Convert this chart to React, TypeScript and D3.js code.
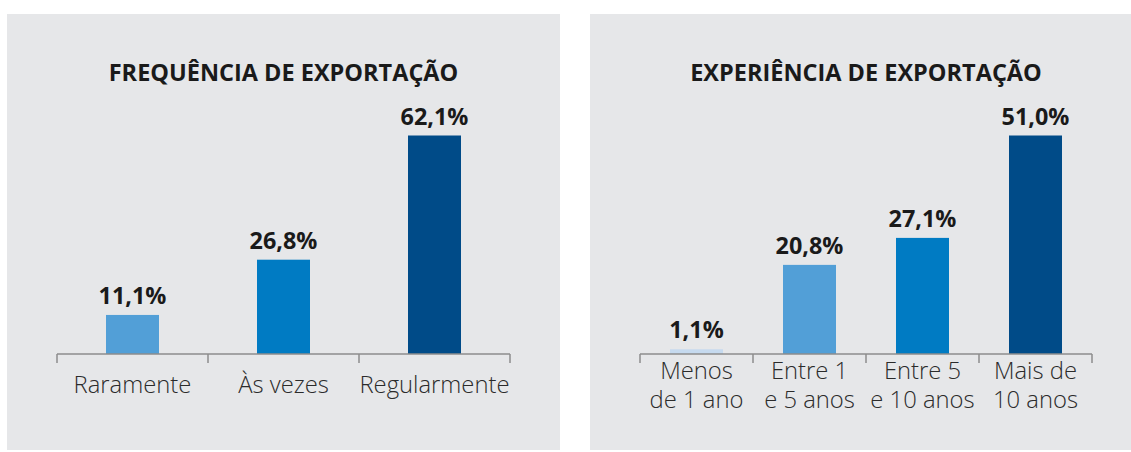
import React, { useEffect, useRef } from 'react';
import * as d3 from 'd3';

// ---- Data
const freqTitle = 'FREQUÊNCIA DE EXPORTAÇÃO';
const freqCategories = ['Raramente', 'Às vezes', 'Regularmente'];
const freqValues = [11.1, 26.8, 62.1];
const freqColors = ['#529fd7', '#007bc3', '#004b88'];

const expTitle = 'EXPERIÊNCIA DE EXPORTAÇÃO';
const expCategories = [['Menos', 'de 1 ano'], ['Entre 1', 'e 5 anos'], ['Entre 5', 'e 10 anos'], ['Mais de', '10 anos']];
const expValues = [1.1, 20.8, 27.1, 51.0];
const expColors = ['#c6daef', '#529fd7', '#007bc3', '#004b88'];

const fmt = (v: number) => v.toFixed(1).replace('.', ',') + '%';

type Panel = {
    title: string;
    labels: string[][];
    values: number[];
    colors: string[];
    box: [number, number, number, number]; // x0, y0, x1, y1
    axis: [number, number];
    labelY: number;
};

const panels: Panel[] = [
    {
        title: freqTitle,
        labels: freqCategories.map(c => [c]),
        values: freqValues,
        colors: freqColors,
        box: [7, 14, 560, 450],
        axis: [57, 510],
        labelY: 393
    },
    {
        title: expTitle,
        labels: expCategories,
        values: expValues,
        colors: expColors,
        box: [590, 14, 1131, 450],
        axis: [640, 1092],
        labelY: 379
    }
];

export default function App() {
    const svgRef = useRef<SVGSVGElement>(null);

    useEffect(() => {
        const svg = d3.select(svgRef.current);
        svg.selectAll('*').remove();

        const baseY = 354;
        const topY = 135.5;
        const barW = 53;

        panels.forEach(p => {
            const [x0, y0, x1, y1] = p.box;
            const g = svg.append('g');

            g.append('rect')
                .attr('x', x0)
                .attr('y', y0)
                .attr('width', x1 - x0)
                .attr('height', y1 - y0)
                .attr('fill', '#e6e7e9');

            const keys = p.labels.map((_, i) => String(i));
            const x = d3.scaleBand<string>().domain(keys).range(p.axis).padding(0);
            const y = d3.scaleLinear()
                .domain([0, d3.max(p.values) as number])
                .range([baseY, topY]);

            // title
            g.append('text')
                .attr('x', (p.axis[0] + p.axis[1]) / 2)
                .attr('y', 81)
                .attr('text-anchor', 'middle')
                .style('font-family', '"Open Sans", sans-serif')
                .style('font-weight', 700)
                .style('font-size', '23.5px')
                .attr('fill', '#1a1a1a')
                .text(p.title);

            // bars
            g.selectAll('.bar')
                .data(p.values)
                .enter()
                .append('rect')
                .attr('class', 'bar')
                .attr('x', (_, i) => (x(keys[i]) as number) + x.bandwidth() / 2 - barW / 2)
                .attr('y', d => y(d))
                .attr('width', barW)
                .attr('height', d => baseY - y(d))
                .attr('fill', (_, i) => p.colors[i]);

            // value labels
            g.selectAll('.val')
                .data(p.values)
                .enter()
                .append('text')
                .attr('class', 'val')
                .attr('x', (_, i) => (x(keys[i]) as number) + x.bandwidth() / 2)
                .attr('y', d => y(d) - 11)
                .attr('text-anchor', 'middle')
                .style('font-family', '"Open Sans", sans-serif')
                .style('font-weight', 700)
                .style('font-size', '23.4px')
                .attr('fill', '#1a1a1a')
                .text(d => fmt(d));

            // axis line + ticks at band edges
            g.append('line')
                .attr('x1', p.axis[0])
                .attr('x2', p.axis[1])
                .attr('y1', baseY)
                .attr('y2', baseY)
                .attr('stroke', '#8c8c8c')
                .attr('stroke-width', 1.5);

            const edges = keys.map(k => x(k) as number).concat([p.axis[1]]);
            g.selectAll('.tick')
                .data(edges)
                .enter()
                .append('line')
                .attr('x1', d => d)
                .attr('x2', d => d)
                .attr('y1', baseY)
                .attr('y2', baseY + 9)
                .attr('stroke', '#8c8c8c')
                .attr('stroke-width', 1.5);

            // category labels
            p.labels.forEach((lines, i) => {
                const t = g.append('text')
                    .attr('x', (x(keys[i]) as number) + x.bandwidth() / 2)
                    .attr('y', p.labelY)
                    .attr('text-anchor', 'middle')
                    .style('font-family', '"Open Sans", sans-serif')
                    .style('font-weight', 300)
                    .style('font-size', '23.8px')
                    .attr('fill', '#2b2b2b');
                lines.forEach((l, j) => {
                    t.append('tspan')
                        .attr('x', (x(keys[i]) as number) + x.bandwidth() / 2)
                        .attr('dy', j === 0 ? 0 : 29)
                        .text(l);
                });
            });
        });
    }, []);

    return (
        <svg
            ref={svgRef}
            width={1131}
            height={452}
            style={{ position: 'absolute', left: 0, top: 0, background: '#ffffff' }}
        />
    );
}
